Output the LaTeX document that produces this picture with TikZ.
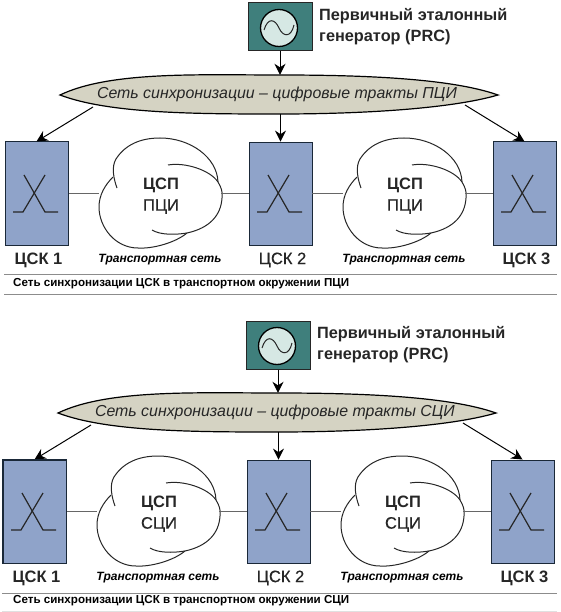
\documentclass[tikz,border=0pt]{standalone}
\usepackage{fontspec}
\setmainfont{Liberation Sans}
\newfontfamily\medfont[FakeBold=0.5]{Liberation Sans}
\usetikzlibrary{arrows.meta}
\definecolor{boxblue}{HTML}{8FA3C9}
\definecolor{boxedge}{HTML}{1A2838}
\definecolor{prcteal}{HTML}{3F7F7C}
\definecolor{prcface}{HTML}{D6E8E4}
\definecolor{lensfill}{HTML}{D5D3C3}
\definecolor{rulegray}{HTML}{8C8C8C}
\tikzset{
  toarrow/.style={draw=black,line width=1pt,-{Stealth[length=11pt,width=11pt]}},
  link/.style={draw=black!60,line width=1pt},
  cskbox/.style={draw=boxedge,fill=boxblue,minimum width=63pt,minimum height=103pt,inner sep=0pt},
  netbox/.style={minimum width=122pt,minimum height=20pt,inner sep=0pt},
  labbold/.style={font=\fontsize{16.5}{18}\selectfont\bfseries,text=black!85},
  labplain/.style={font=\fontsize{16.5}{18}\selectfont\medfont,text=black!85},
  transport/.style={font=\fontsize{12}{14}\selectfont\bfseries\itshape},
  caption/.style={anchor=west,inner sep=0pt,font=\fontsize{11.6}{13}\selectfont\bfseries},
  prctext/.style={anchor=west,inner sep=0pt,font=\fontsize{16.3}{18}\selectfont\bfseries,text=black!85},
}
\begin{document}
\begin{tikzpicture}[x=1pt,y=-1pt]
  \useasboundingbox (0,0) rectangle (561,612);
  \foreach \p/\dx/\dy/\net in {1/0/0/ПЦИ,2/-2/318/СЦИ} {
    \begin{scope}[shift={(\dx,\dy)}]
      % reference generator
      \node[draw=black!85,fill=prcteal,line width=1pt,minimum width=64pt,minimum height=48pt,inner sep=0pt] (prc\p) at (280,27) {};
      \draw[black,fill=prcface,line width=1.3pt] (279,28) circle (18.5);
      \draw[black!85,line width=1pt] (264,30) .. controls (268,17) and (275,19) .. (279,28) .. controls (283,37) and (291,38) .. (294,25);
      \node[prctext] (prca\p) at (319,16) {Первичный эталонный};
      \node[prctext] (prcb\p) at (319,37) {генератор (PRC)};
      % synchronisation network
      \draw[black,fill=lensfill,line width=1.2pt] (60,95) .. controls (110,71) and (200,75) .. (280,75) .. controls (360,75) and (450,78) .. (498,95) .. controls (450,109) and (360,114) .. (280,114) .. controls (200,114) and (110,114) .. cycle;
      \node[minimum width=362pt,minimum height=39pt,inner sep=0pt,font=\fontsize{15.9}{18}\selectfont\itshape,text=black!85] (sync\p) at (277,94.5) {Сеть синхронизации – цифровые тракты \net};
      \coordinate (syncl\p) at (93,107);
      \coordinate (syncr\p) at (465,105);
      % exchanges
      \foreach \i/\cx/\lw/\st in {1/36.5/1/labbold,2/280.5/.8/labplain,3/524.5/1/labbold} {
        \node[cskbox,line width=\lw pt] (box\p\i) at (\cx,193.5) {};
        \draw[black!85,line width=1.2pt] (\cx-23.5,212) -- (\cx-13.5,212) -- (\cx+8.5,175);
        \draw[black!85,line width=1.2pt] (\cx+21.5,212) -- (\cx+8.5,212) -- (\cx-12.5,175);
        \node[\st] (csk\p\i) at (\cx+2,260) {ЦСК \i};
      }
      % clouds
      \foreach \j/\cx/\a/\b in {1/160/1/2,2/404/2/3} {
        \begin{scope}[shift={(\cx,195)}]
          \draw[black!85,line width=1pt] (-43,-7) .. controls (-46,-15) and (-49,-28) .. (-44,-36) .. controls (-35,-50) and (-20,-57) .. (0,-57) .. controls (30,-57) and (57,-38) .. (58,-13);
          \draw[black!85,line width=1pt] (8,-30) .. controls (25,-33) and (50,-25) .. (58,-13) .. controls (61,-8) and (63,-3) .. (62,3) .. controls (61,20) and (50,33) .. (27,38) .. controls (15,48) and (-8,54) .. (-22,53) .. controls (-45,53) and (-61,32) .. (-61,12) .. controls (-61,0) and (-55,-10) .. (-47,-18);
          \draw[black!85,line width=1pt] (-8,35) .. controls (0,40) and (15,40) .. (27,38);
        \end{scope}
        \node[netbox] (net\p\j) at (\cx,193.5) {};
        \node[align=center,inner sep=0pt,font=\fontsize{16.5}{21}\selectfont,text=black!85] (nettext\p\j) at (\cx+1,196) {{\bfseries ЦСП}\\{\medfont\net}};
        \node[transport] (trans\p\j) at (\cx,260) {Транспортная сеть};
        \draw[link] (box\p\a.east) -- (net\p\j.west);
        \draw[link] (net\p\j.east) -- (box\p\b.west);
      }
      % arrows
      \draw[toarrow] (prc\p.south) -- (prc\p.south |- sync\p.north);
      \draw[toarrow] (box\p2.north |- sync\p.south) -- (box\p2.north);
      \draw[toarrow] (syncl\p) -- (box\p1.north);
      \draw[toarrow] (syncr\p) -- (box\p3.north);
    \end{scope}
  }
  % heavier edge of the lower left box
  \draw[boxedge,line width=1.6pt] (box21.north west) rectangle (box21.south east);
  % captions
  \foreach \p/\y/\net in {1/284/ПЦИ,2/600.5/СЦИ}
    \node[caption] (cap\p) at (13,\y) {Сеть синхронизации ЦСК в транспортном окружении \net};
  \draw[rulegray,line width=1pt] (4,274) -- (557,274);
  \draw[rulegray,line width=1pt] (4,294) -- (557,294);
  \draw[rulegray,line width=1pt] (2,593) -- (557,593);
  \draw[black!12,line width=1pt] (2,611) -- (557,611);
\end{tikzpicture}
\end{document}
